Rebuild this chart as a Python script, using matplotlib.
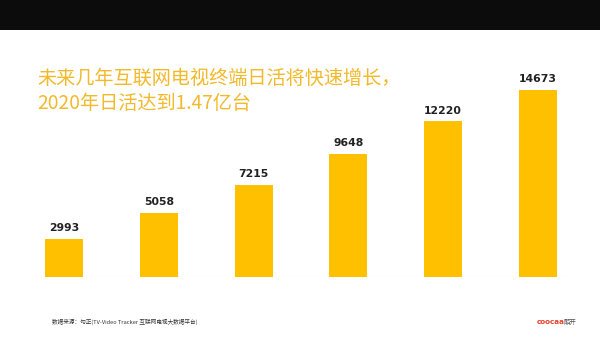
import matplotlib.pyplot as plt
from matplotlib.patches import Rectangle

plt.rcParams['font.family'] = ['Noto Sans CJK SC', 'DejaVu Sans']

years = ['2015', '2016', '2017', '2018', '2019', '2020']
values = [2993, 5058, 7215, 9648, 12220, 14673]

bar_color = '#FFC000'
title_color = '#F2B92A'

W, H = 600, 337
fig = plt.figure(figsize=(6, 3.37), dpi=100)
fig.patch.set_facecolor('white')

# black band at the top
fig.patches.append(Rectangle((0, 1 - 30 / H), 1, 30 / H, transform=fig.transFigure,
                             facecolor='#0c0c0c', edgecolor='none', zorder=0))

ax = fig.add_axes([30 / W, 60 / H, 540 / W, 197 / H])
x = list(range(len(values)))
ax.bar(x, values, width=0.4, color=bar_color, zorder=2)
for xi, v in zip(x, values):
    ax.text(xi, v + 450, str(v), ha='center', va='bottom', fontsize=7.8,
            fontweight='bold', color='#222222', family='DejaVu Sans')

ax.set_xlim(-0.36, 5.34)
ax.set_ylim(0, 15460)
ax.axhline(0, color='#dddddd', lw=0.8, zorder=1)
ax.axis('off')

fig.text(37 / W, 1 - 84 / H, '未来几年互联网电视终端日活将快速增长，', fontsize=13.8,
         color=title_color, va='baseline', ha='left')
fig.text(37 / W, 1 - 109 / H, '2020年日活达到1.47亿台', fontsize=13.8,
         color=title_color, va='baseline', ha='left')

fig.text(52 / W, 1 - 322 / H, '数据来源：勾正(TV-Video Tracker 互联网电视大数据平台)',
         fontsize=4.1, color='#333333', va='center', ha='left')
fig.text(537 / W, 1 - 322 / H, 'coocaa', fontsize=5.2, color='#E8412C',
         fontweight='bold', va='center', ha='left', family='DejaVu Sans')
fig.text(564 / W, 1 - 322 / H, '酷开', fontsize=4.6, color='#555555',
         va='center', ha='left')

fig.savefig('out.png', dpi=100)
